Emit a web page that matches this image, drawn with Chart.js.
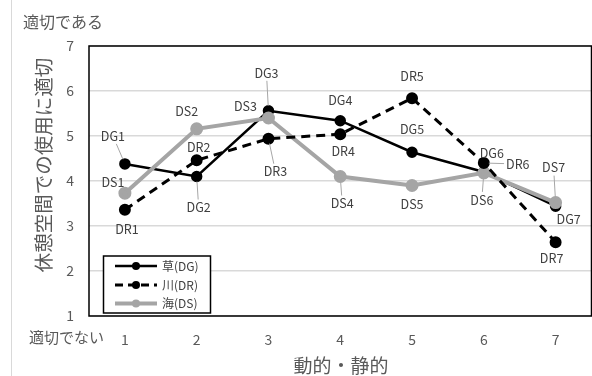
<!DOCTYPE html>
<html>
<head>
<meta charset="utf-8">
<script src="https://cdn.jsdelivr.net/npm/chart.js@4/dist/chart.umd.min.js"></script>
<style>
  html, body { margin: 0; padding: 0; background: #fff; overflow: hidden; }
  canvas { display: block; }
</style>
</head>
<body>
<canvas id="myChart" width="600" height="376" style="width:600px;height:376px"></canvas>
<script>
// 横軸（動的・静的）
const categorias = ["1", "2", "3", "4", "5", "6", "7"]
// 各景観の評価値
const valoresDG = [4.38, 4.10, 5.56, 5.34, 4.64, 4.20, 3.44]
const valoresDR = [3.36, 4.46, 4.94, 5.04, 5.84, 4.40, 2.64]
const valoresDS = [3.73, 5.16, 5.40, 4.10, 3.90, 4.18, 3.52]
const ticksY = [1, 2, 3, 4, 5, 6, 7]

// ラベルの位置（点からのずれ）とリーダー線
const offsetsDG = [[-12, -28], [2, 31], [-2, -38], [0, -20], [0, -23], [8, -19], [13, 13]]
const offsetsDR = [[2, 19], [2, -13], [7, 33], [3, 17], [0, -22], [34, 1], [-4, 16]]
const offsetsDS = [[-12, -11], [-10, -18], [-23, -12], [2, 27], [0, 19], [-2, 27], [-2, -35]]
const leaderDG = [true, true, true, false, false, false, false]
const leaderDR = [false, false, true, false, false, true, false]
const leaderDS = [false, false, false, true, false, true, true]

const fuente = '"Noto Sans CJK JP", "Noto Sans", sans-serif'
const grisTexto = '#595959'

const etiquetas = {
    id: 'etiquetas',
    beforeDatasetsDraw(chart) {
        const ctx = chart.ctx
        const a = chart.chartArea
        ctx.save()
        ctx.strokeStyle = '#000'
        ctx.lineWidth = 1.5
        ctx.strokeRect(a.left, a.top, a.right - a.left, a.bottom - a.top)
        ctx.restore()
    },
    afterDatasetsDraw(chart) {
        const ctx = chart.ctx
        ctx.save()
        ctx.font = '12.5px ' + fuente
        ctx.textAlign = 'center'
        ctx.textBaseline = 'middle'
        chart.data.datasets.forEach((ds, i) => {
            const meta = chart.getDatasetMeta(i)
            meta.data.forEach((p, j) => {
                const off = ds.offsets[j]
                const lx = p.x + off[0]
                const ly = p.y + off[1]
                const texto = ds.prefijo + (j + 1)
                if (ds.leaders[j]) {
                    const w = ctx.measureText(texto).width / 2 + 2
                    const h = 8
                    const dx = p.x - lx
                    const dy = p.y - ly
                    const t = Math.min(Math.abs(dx) > 0 ? w / Math.abs(dx) : 99, Math.abs(dy) > 0 ? h / Math.abs(dy) : 99)
                    const len = Math.hypot(dx, dy)
                    const sx = lx + dx * t
                    const sy = ly + dy * t
                    const ex = p.x - dx / len * 5
                    const ey = p.y - dy / len * 5
                    ctx.strokeStyle = '#a6a6a6'
                    ctx.lineWidth = 1
                    ctx.beginPath()
                    ctx.moveTo(sx, sy)
                    ctx.lineTo(ex, ey)
                    ctx.stroke()
                }
                ctx.fillStyle = '#404040'
                ctx.fillText(texto, lx, ly)
            })
        })
        ctx.restore()
    },
    afterDraw(chart) {
        const ctx = chart.ctx
        ctx.save()
        // 枠線
        ctx.strokeStyle = '#d9d9d9'
        ctx.lineWidth = 1
        ctx.beginPath()
        ctx.moveTo(11.5, 0)
        ctx.lineTo(11.5, 376)
        ctx.stroke()
        // テキスト
        ctx.fillStyle = grisTexto
        ctx.textBaseline = 'middle'
        ctx.textAlign = 'left'
        ctx.font = '16px ' + fuente
        ctx.fillText('適切である', 23, 22)
        ctx.font = '15px ' + fuente
        ctx.fillText('適切でない', 29, 337)
        ctx.textAlign = 'center'
        ctx.font = '19px ' + fuente
        ctx.fillText('動的・静的', 341, 366)
        ctx.translate(43.5, 165)
        ctx.rotate(-Math.PI / 2)
        ctx.font = '19.5px ' + fuente
        ctx.fillText('休憩空間での使用に適切', 0, 0)
        ctx.restore()

        // 凡例
        ctx.save()
        ctx.fillStyle = '#fff'
        ctx.fillRect(103.5, 256, 107, 57)
        ctx.strokeStyle = '#000'
        ctx.lineWidth = 1.5
        ctx.strokeRect(103.5, 256, 107, 57)
        const filas = [
            { y: 266, color: '#000', dash: [], ancho: 2.5, texto: '草(DG)' },
            { y: 285, color: '#000', dash: [8, 5], ancho: 3, texto: '川(DR)' },
            { y: 303.5, color: '#a5a5a5', dash: [], ancho: 4, texto: '海(DS)' }
        ]
        filas.forEach(f => {
            ctx.strokeStyle = f.color
            ctx.lineWidth = f.ancho
            ctx.setLineDash(f.dash)
            ctx.beginPath()
            ctx.moveTo(115, f.y)
            ctx.lineTo(157, f.y)
            ctx.stroke()
            ctx.setLineDash([])
            ctx.fillStyle = f.color
            ctx.beginPath()
            ctx.arc(136, f.y, 4, 0, Math.PI * 2)
            ctx.fill()
            ctx.fillStyle = '#404040'
            ctx.font = '12px ' + fuente
            ctx.textAlign = 'left'
            ctx.textBaseline = 'middle'
            ctx.fillText(f.texto, 162, f.y)
        })
        ctx.restore()
    }
}

const data = {
    labels: categorias,
    datasets: [{
        label: '草(DG)',
        prefijo: 'DG',
        offsets: offsetsDG,
        leaders: leaderDG,
        data: valoresDG,
        borderColor: '#000',
        backgroundColor: '#000',
        borderWidth: 2.5,
        pointRadius: 4.5,
        pointHoverRadius: 4.5,
        order: 2
    }, {
        label: '川(DR)',
        prefijo: 'DR',
        offsets: offsetsDR,
        leaders: leaderDR,
        data: valoresDR,
        borderColor: '#000',
        backgroundColor: '#000',
        borderWidth: 3,
        borderDash: [9, 6],
        pointRadius: 4.5,
        pointHoverRadius: 4.5,
        order: 0
    }, {
        label: '海(DS)',
        prefijo: 'DS',
        offsets: offsetsDS,
        leaders: leaderDS,
        data: valoresDS,
        borderColor: '#a5a5a5',
        backgroundColor: '#a5a5a5',
        borderWidth: 4,
        pointRadius: 4.5,
        pointHoverRadius: 4.5,
        order: 1
    }]
}

const config = {
    type: 'line',
    data: data,
    options: {
        responsive: false,
        animation: false,
        events: [],
        layout: { padding: { top: 46, right: 5, left: 0, bottom: 0 } },
        plugins: {
            legend: { display: false },
            tooltip: { enabled: false }
        },
        scales: {
            x: {
                offset: true,
                grid: { display: false, drawTicks: false },
                border: { display: false },
                ticks: { color: grisTexto, font: { family: fuente, size: 14 }, padding: 15 },
                afterFit: s => { s.height = 60 }
            },
            y: {
                min: 1,
                max: 7,
                afterBuildTicks: s => { s.ticks = ticksY.map(v => ({ value: v })) },
                grid: { color: '#d9d9d9', lineWidth: 1.5, drawTicks: false },
                border: { display: false },
                ticks: { color: grisTexto, font: { family: fuente, size: 14 }, padding: 15 },
                afterFit: s => { s.width = 89 }
            }
        }
    },
    plugins: [etiquetas]
}

const myChart = new Chart(document.getElementById('myChart'), config)
</script>
</body>
</html>
